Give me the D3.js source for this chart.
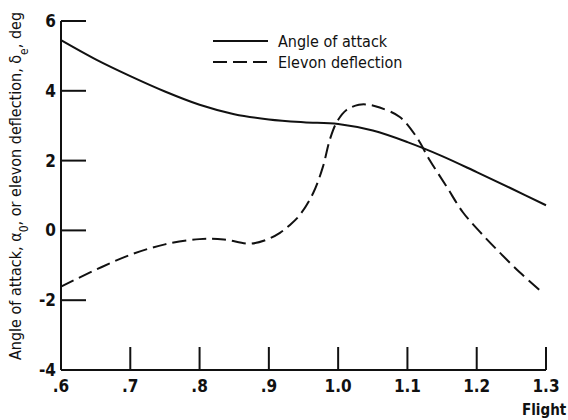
<!DOCTYPE html>
<html>
<meta charset=utf-8>
<head>
  <style>
    body { margin: 0; background: #fff; }
    text { font-family: "DejaVu Sans Condensed", "Liberation Sans Narrow", sans-serif; fill: #111; }
  </style>
</head>
<body>
<svg id="canvas" width="568" height="420"></svg>
<script src="https://d3js.org/d3.v7.min.js"></script>
<script>

var xTicks = [0.6, 0.7, 0.8, 0.9, 1.0, 1.1, 1.2, 1.3]
var xTickLabels = ['.6', '.7', '.8', '.9', '1.0', '1.1', '1.2', '1.3']
var yTicks = [-4, -2, 0, 2, 4, 6]

// angle of attack (solid)
var machAlpha = [0.6, 0.65, 0.7, 0.75, 0.8, 0.85, 0.9, 0.95, 1.0, 1.05, 1.1, 1.15, 1.2, 1.25, 1.3]
var alpha = [5.45, 4.9, 4.42, 3.98, 3.6, 3.33, 3.18, 3.1, 3.05, 2.86, 2.53, 2.13, 1.67, 1.2, 0.72]

// elevon deflection (dashed)
var machElevon = [0.6, 0.65, 0.7, 0.75, 0.8, 0.835, 0.872, 0.895, 0.916, 0.93, 0.945, 0.964, 0.978,
  0.988, 0.998, 1.012, 1.03, 1.045, 1.06, 1.089, 1.113, 1.132, 1.157, 1.18, 1.205, 1.229, 1.262, 1.294]
var elevon = [-1.61, -1.13, -0.7, -0.4, -0.25, -0.26, -0.38, -0.28, -0.07, 0.15, 0.45, 1.07, 1.82,
  2.6, 3.1, 3.45, 3.6, 3.6, 3.52, 3.25, 2.68, 2.02, 1.24, 0.52, -0.05, -0.55, -1.2, -1.77]

var svg = d3.select('#canvas')

var x = d3.scaleLinear().domain([0.6, 1.3]).range([61, 546])
var y = d3.scaleLinear().domain([-4, 6]).range([370, 21])

// axes lines
svg.append('line').attr('x1', 61).attr('x2', 61).attr('y1', y(6)).attr('y2', y(-4))
  .attr('stroke', '#111').attr('stroke-width', 2)
svg.append('line').attr('x1', 61).attr('x2', x(1.3)).attr('y1', y(-4)).attr('y2', y(-4))
  .attr('stroke', '#111').attr('stroke-width', 2)

// y ticks point inward
svg.selectAll('.ytick').data(yTicks.slice(1)).enter().append('line')
  .attr('x1', 61).attr('x2', 86)
  .attr('y1', function(d) { return y(d) }).attr('y2', function(d) { return y(d) })
  .attr('stroke', '#111').attr('stroke-width', 2)

svg.selectAll('.ylab').data(yTicks).enter().append('text')
  .attr('x', 56).attr('y', function(d) { return y(d) + 6 })
  .attr('text-anchor', 'end').attr('font-size', 17).attr('font-weight', 'bold')
  .text(function(d) { return d })

// x ticks point up
svg.selectAll('.xtick').data(xTicks.slice(1)).enter().append('line')
  .attr('x1', function(d) { return x(d) }).attr('x2', function(d) { return x(d) })
  .attr('y1', y(-4)).attr('y2', y(-4) - 23)
  .attr('stroke', '#111').attr('stroke-width', 2)

svg.selectAll('.xlab').data(xTicks).enter().append('text')
  .attr('x', function(d) { return x(d) }).attr('y', 392)
  .attr('text-anchor', 'middle').attr('font-size', 17).attr('font-weight', 'bold')
  .text(function(d, i) { return xTickLabels[i] })

svg.append('text').attr('x', 522).attr('y', 415).attr('font-size', 15).attr('font-weight', 'bold')
  .text('Flight')

// y title
var yt = svg.append('text')
  .attr('transform', 'translate(21,186) rotate(-90)')
  .attr('text-anchor', 'middle').attr('font-size', 16)
yt.append('tspan').text('Angle of attack, \u03b1')
yt.append('tspan').attr('baseline-shift', 'sub').attr('font-size', 12).text('0')
yt.append('tspan').text(', or elevon deflection, \u03b4')
yt.append('tspan').attr('baseline-shift', 'sub').attr('font-size', 12).text('e')
yt.append('tspan').text(', deg')

var line = d3.line()
  .x(function(d) { return x(d[0]) })
  .y(function(d) { return y(d[1]) })
  .curve(d3.curveCatmullRom.alpha(0.5))

svg.append('path')
  .datum(d3.zip(machAlpha, alpha))
  .attr('d', line)
  .attr('fill', 'none').attr('stroke', '#111').attr('stroke-width', 2)

svg.append('path')
  .datum(d3.zip(machElevon, elevon))
  .attr('d', line)
  .attr('fill', 'none').attr('stroke', '#111').attr('stroke-width', 2)
  .attr('stroke-dasharray', '14,6')

// legend
svg.append('line').attr('x1', 213).attr('x2', 268).attr('y1', 41).attr('y2', 41)
  .attr('stroke', '#111').attr('stroke-width', 2)
svg.append('line').attr('x1', 213).attr('x2', 268).attr('y1', 62).attr('y2', 62)
  .attr('stroke', '#111').attr('stroke-width', 2).attr('stroke-dasharray', '14,6')
svg.append('text').attr('x', 278).attr('y', 47).attr('font-size', 16).text('Angle of attack')
svg.append('text').attr('x', 278).attr('y', 68).attr('font-size', 16).text('Elevon deflection')

</script>
</body>
</html>
